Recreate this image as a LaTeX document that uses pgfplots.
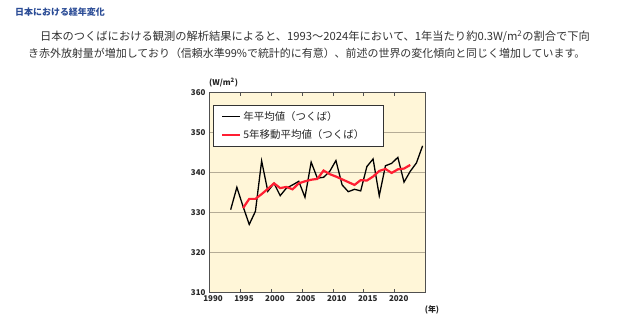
\documentclass[border=0pt]{standalone}
\usepackage{fontspec}
\setmainfont{Noto Sans CJK JP}
\usepackage{pgfplots}
\pgfplotsset{compat=1.18}
\definecolor{plotbg}{HTML}{FFF6D8}
\definecolor{gridc}{HTML}{B5AC96}
\definecolor{titleblue}{HTML}{2B4C96}
\definecolor{bodytext}{HTML}{333333}
\definecolor{redline}{HTML}{FF1E32}
\definecolor{framec}{HTML}{505050}

\pgfplotstableread{
year val
1993.5 330.7
1994.5 336.3
1995.5 331.5
1996.5 327.0
1997.5 330.3
1998.5 342.9
1999.5 335.3
2000.5 337.3
2001.5 334.2
2002.5 336.1
2003.5 336.9
2004.5 337.8
2005.5 333.8
2006.5 342.6
2007.5 338.6
2008.5 338.8
2009.5 340.3
2010.5 343.0
2011.5 336.9
2012.5 335.2
2013.5 335.8
2014.5 335.4
2015.5 341.5
2016.5 343.4
2017.5 334.2
2018.5 341.7
2019.5 342.3
2020.5 343.8
2021.5 337.6
2022.5 340.3
2023.5 342.4
2024.5 346.7
}\annual

\pgfplotstableread{
year val
1995.5 331.1
1996.5 333.4
1997.5 333.4
1998.5 334.6
1999.5 335.9
2000.5 337.3
2001.5 336.1
2002.5 336.4
2003.5 335.8
2004.5 337.3
2005.5 337.8
2006.5 338.2
2007.5 338.4
2008.5 340.5
2009.5 339.6
2010.5 339.0
2011.5 338.3
2012.5 337.6
2013.5 336.9
2014.5 338.1
2015.5 338.0
2016.5 339.0
2017.5 340.4
2018.5 340.9
2019.5 339.9
2020.5 340.8
2021.5 341.0
2022.5 341.9
}\moving

\begin{document}
\begin{tikzpicture}
\useasboundingbox[fill=white] (0bp,0bp) rectangle (644bp,322bp);
\node[anchor=west,font=\fontsize{9}{10}\selectfont\bfseries,text=titleblue,inner sep=0pt] at (15bp,309.5bp) {日本における経年変化};
\node[anchor=west,font=\fontsize{11.3}{12}\selectfont,text=bodytext,inner sep=0pt] at (40bp,285bp) {日本のつくばにおける観測の解析結果によると、1993〜2024年において、1年当たり約0.3W/m\textsuperscript{2}の割合で下向};
\node[anchor=west,font=\fontsize{11}{12}\selectfont,text=bodytext,inner sep=0pt] at (28bp,269bp) {き赤外放射量が増加しており（信頼水準99\%で統計的に有意）、前述の世界の変化傾向と同じく増加しています。};
\node[anchor=west,font=\fontsize{8}{9}\selectfont\bfseries,text=black!85,inner sep=0pt] at (209bp,239bp) {(W/m\textsuperscript{2})};
\node[anchor=center,font=\fontsize{8}{9}\selectfont\bfseries,text=black!85,inner sep=0pt] at (432bp,12bp) {(年)};
\begin{axis}[
  at={(209bp,29.7bp)}, anchor=south west,
  scale only axis, width=216.7bp, height=199.6bp,
  xmin=1990, xmax=2025, ymin=310, ymax=360,
  xtick={1990,1995,...,2020}, ytick={310,320,...,360},
  /pgf/number format/1000 sep={},
  /pgf/number format/assume math mode=true,
  ticklabel style={font=\fontsize{8}{9}\selectfont\bfseries, text=black!85},
  xticklabel style={xshift=4bp},
  tick align=inside, major tick length=3bp,
  x tick style={framec, line width=0.6bp},
  y tick style={draw=none},
  ymajorgrids, grid style={gridc, line width=0.8bp},
  axis line style={framec, line width=1bp},
  axis background/.style={fill=plotbg},
  legend style={at={(0.018,0.938)}, anchor=north west, draw=black!80, line width=0.6bp, fill=white,
    font=\fontsize{10.5}{12}\selectfont, text=black!85, row sep=4bp, inner xsep=8bp, inner ysep=4bp},
  legend cell align=left,
  legend image code/.code={\draw[#1] (0bp,0bp) -- (18bp,0bp);},
]
\addplot[black, line width=1.3bp, mark=none] table[x=year,y=val] {\annual};
\addlegendentry[text width=130bp]{年平均値（つくば）}
\addplot[redline, line width=2.2bp, mark=none] table[x=year,y=val] {\moving};
\addlegendentry[text width=130bp]{5年移動平均値（つくば）}
\end{axis}
\end{tikzpicture}
\end{document}
